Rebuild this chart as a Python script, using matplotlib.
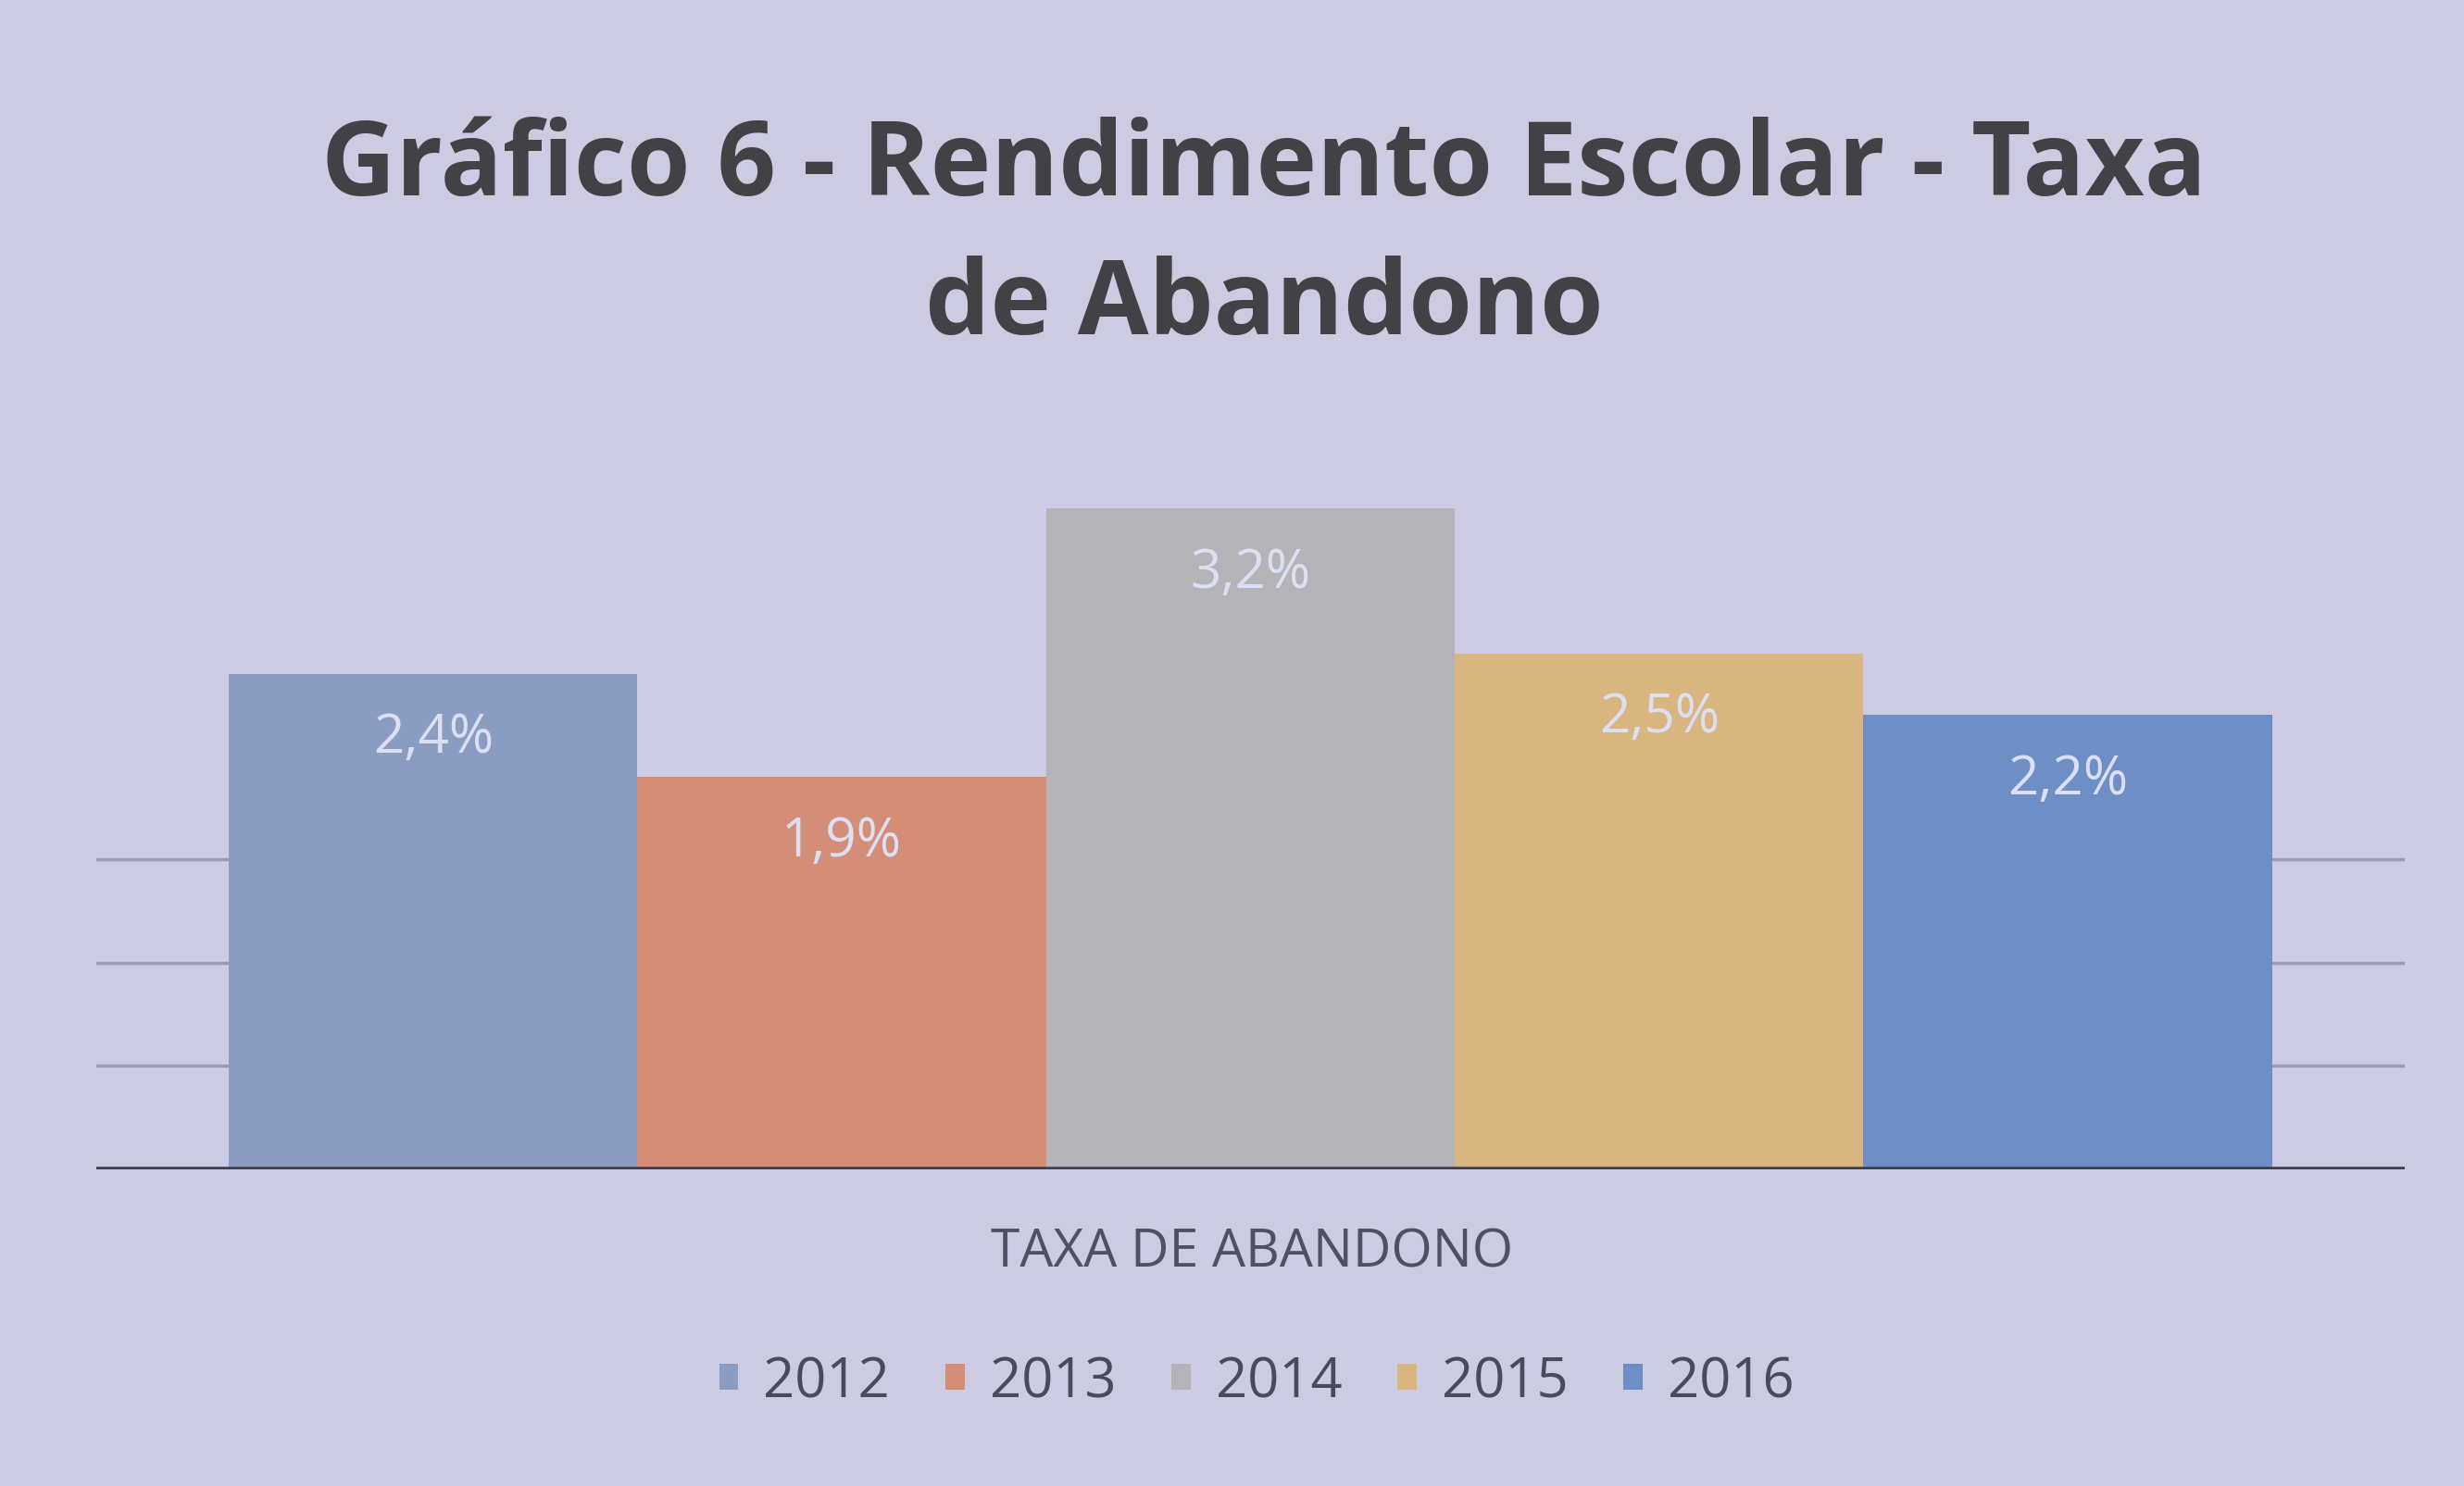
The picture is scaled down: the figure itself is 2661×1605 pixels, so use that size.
import matplotlib
matplotlib.use("Agg")
import matplotlib.pyplot as plt
from matplotlib.patches import Patch

# data
years = ["2012", "2013", "2014", "2015", "2016"]
rates = [2.4, 1.9, 3.2, 2.5, 2.2]
category = "TAXA DE ABANDONO"
title = "Gráfico 6 - Rendimento Escolar - Taxa\nde Abandono"

colors = ["#8a9cc2", "#d48d77", "#b4b4b8", "#d9b67f", "#6e8fc6"]
bg = "#cdcbe1"

plt.rcParams["font.family"] = ["Open Sans", "DejaVu Sans"]

fig = plt.figure(figsize=(26.61, 16.06), dpi=100, facecolor=bg)
ax = fig.add_axes([0.039, 0.213, 0.937, 0.472])
ax.set_facecolor(bg)

width = 0.177
n = len(years)
offsets = [(i - (n - 1) / 2) * width for i in range(n)]
for off, v, c, y in zip(offsets, rates, colors, years):
    ax.bar(off, v, width=width, color=c, label=y, zorder=3)
    ax.text(off, v - 0.31, f"{v:.1f}".replace(".", ",") + "%",
            ha="center", va="center", fontsize=42, color="#dcdff2", zorder=4)

ax.set_xlim(-0.5, 0.5)
ax.set_ylim(0, 3.4)
for g in [0.5, 1.0, 1.5]:
    ax.axhline(g, color="#9c9ab4", lw=2.5, zorder=1)
ax.axhline(0, color="#3e3e4e", lw=4, zorder=5)

for s in ax.spines.values():
    s.set_visible(False)
ax.set_xticks([])
ax.set_yticks([])

fig.text(0.513, 0.84, title, ha="center", va="center", fontsize=80,
         fontweight="bold", color="#424246", linespacing=1.45)
fig.text(0.508, 0.157, category, ha="center", va="center", fontsize=41,
         color="#505062")

handles = [Patch(facecolor=c, label=y) for c, y in zip(colors, years)]
fig.legend(handles=handles, loc="center", bbox_to_anchor=(0.51, 0.07),
           ncol=5, frameon=False, fontsize=43, labelcolor="#4a4a5a",
           handlelength=0.35, handleheight=0.35, handletextpad=0.45,
           columnspacing=1.0)

fig.savefig("out.png", dpi=100, facecolor=bg)
